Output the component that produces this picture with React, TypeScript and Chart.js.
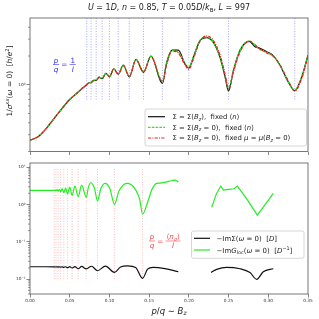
import React, { useEffect, useRef } from 'react';
import { Chart, registerables } from 'chart.js';

Chart.register(...registerables);

// ---------------- data ----------------
const xTicks = [0, 0.05, 0.1, 0.15, 0.2, 0.25, 0.3, 0.35];
const xTickLabels = ['0.00', '0.05', '0.10', '0.15', '0.20', '0.25', '0.30', '0.35'];

const topYTicks = [1];
const topYTickLabels = ['10⁰'];
const topYMinorTicks = [0.2, 0.3, 0.4, 0.5, 0.6, 0.7, 0.8, 0.9, 2, 3, 4];

const botYTicks = [0.01, 0.1, 1, 10];
const botYTickLabels = ['10⁻²', '10⁻¹', '10⁰', '10¹'];
const botYMinorTicks = [
  0.004, 0.005, 0.006, 0.007, 0.008, 0.009,
  0.02, 0.03, 0.04, 0.05, 0.06, 0.07, 0.08, 0.09,
  0.2, 0.3, 0.4, 0.5, 0.6, 0.7, 0.8, 0.9,
  2, 3, 4, 5, 6, 7, 8, 9,
];

// p/q = 1/l  (l = 3 ... 14)
const blueLinesX = [0.3333, 0.25, 0.2, 0.1667, 0.1429, 0.125, 0.1111, 0.1, 0.0909, 0.0833, 0.0769, 0.0714];
const blueLinesRange = [0.7, 5];
// p/q = <n_sigma>/l  (l = 3 ... 14)
const redLinesX = [0.1417, 0.1063, 0.085, 0.0708, 0.0607, 0.0531, 0.0472, 0.0425, 0.0386, 0.0354, 0.0327, 0.0304];
const redLinesRange = [0.01, 10];

// top panel: 1/sigma_xx(omega=0)
const topX = [0, 0.01, 0.02, 0.03, 0.04, 0.05, 0.06, 0.0667, 0.0714, 0.0745,
  0.0769, 0.08, 0.0833, 0.087, 0.0909, 0.0955, 0.1, 0.1055, 0.1111, 0.1175,
  0.125, 0.1335, 0.1429, 0.1523, 0.1667, 0.172, 0.179, 0.1867, 0.195, 0.2,
  0.2056, 0.214, 0.2225, 0.2308, 0.2392, 0.2455, 0.25, 0.256, 0.2644, 0.2761,
  0.2833, 0.2874, 0.298, 0.3063, 0.3147, 0.3252, 0.3333, 0.342, 0.35];
const topSigmaBz = [0.262, 0.285, 0.345, 0.44, 0.56, 0.70, 0.83, 0.93, 1.00, 1.05,
  1.05, 1.11, 1.11, 1.20, 1.16, 1.32, 1.21, 1.47, 1.29, 1.61,
  1.21, 1.85, 1.35, 2.00, 1.03, 1.70, 2.30, 2.30, 1.66, 1.50,
  1.94, 2.90, 3.12, 2.78, 1.94, 1.22, 0.86, 1.40, 2.30, 2.85,
  2.50, 2.45, 2.22, 2.02, 1.60, 1.07, 0.87, 1.20, 2.04];
const topSigma0FixedN = [0.262, 0.285, 0.345, 0.44, 0.56, 0.70, 0.83, 0.93, 1.00, 1.05,
  1.06, 1.11, 1.12, 1.20, 1.17, 1.32, 1.22, 1.46, 1.30, 1.60,
  1.22, 1.84, 1.38, 1.99, 1.10, 1.67, 2.28, 2.20, 1.70, 1.52,
  1.96, 2.92, 3.16, 2.80, 1.96, 1.26, 0.92, 1.42, 2.30, 2.87,
  2.59, 2.40, 2.18, 2.00, 1.60, 1.075, 0.88, 1.21, 2.04];
const topSigma0FixedMu = [0.262, 0.285, 0.345, 0.44, 0.56, 0.70, 0.83, 0.93, 1.00, 1.05,
  1.06, 1.10, 1.12, 1.19, 1.17, 1.30, 1.22, 1.45, 1.30, 1.58,
  1.22, 1.82, 1.36, 1.97, 1.08, 1.62, 2.25, 2.15, 1.62, 1.45,
  1.85, 2.85, 3.25, 2.92, 2.05, 1.30, 0.90, 1.35, 2.20, 2.87,
  2.62, 2.45, 2.15, 1.98, 1.62, 1.10, 0.86, 1.15, 2.00];

// bottom panel: -Im Sigma(omega=0) [D]
const botSigX1 = [0, 0.02, 0.03, 0.0327, 0.034, 0.0354, 0.037, 0.0386, 0.0405, 0.0425,
  0.0448, 0.0472, 0.05, 0.0531, 0.0565, 0.0607, 0.065, 0.0708, 0.0775, 0.085,
  0.095, 0.1063, 0.114, 0.123, 0.133, 0.1417, 0.148, 0.155, 0.17, 0.1867];
const botSig1 = [0.0215, 0.0215, 0.0214, 0.0212, 0.0214, 0.0211, 0.0214, 0.0209, 0.0214, 0.0206,
  0.0215, 0.0203, 0.0216, 0.0199, 0.0218, 0.0190, 0.0219, 0.0188, 0.0222, 0.0168,
  0.0224, 0.0152, 0.0212, 0.0228, 0.0205, 0.0105, 0.0185, 0.0208, 0.0192, 0.0158];
const botSigX2 = [0.2279, 0.235, 0.2476, 0.2644, 0.277, 0.2854, 0.2937, 0.3063];
const botSig2 = [0.0152, 0.0183, 0.0207, 0.0190, 0.0150, 0.0099, 0.0158, 0.0190];

// bottom panel: -Im G_loc(omega=0) [1/D]
const botGX1 = [0, 0.01, 0.02, 0.03, 0.0304, 0.0315, 0.0327, 0.034, 0.0354, 0.037,
  0.0386, 0.0405, 0.0425, 0.0448, 0.0472, 0.05, 0.0531, 0.0565, 0.0607, 0.065,
  0.0708, 0.0735, 0.0765, 0.081, 0.085, 0.089, 0.0945, 0.1005, 0.1063, 0.112,
  0.122, 0.1325, 0.138, 0.1417, 0.149, 0.1532, 0.1595, 0.1637, 0.1784, 0.1826, 0.1867];
const botG1 = [2.40, 2.40, 2.40, 2.40, 2.38, 2.46, 2.34, 2.50, 2.28, 2.56,
  2.20, 2.66, 2.08, 2.78, 1.92, 2.92, 1.76, 3.13, 1.62, 3.33,
  1.56, 2.9, 3.84, 2.8, 1.26, 2.6, 3.70, 2.7, 1.01, 2.3,
  3.70, 2.6, 1.4, 0.556, 1.32, 2.45, 3.70, 3.75, 4.35, 4.54, 4.00];
const botGX2 = [0.2288, 0.2345, 0.2401, 0.2434, 0.25, 0.257, 0.261, 0.2735, 0.2862, 0.296, 0.3063];
const botG2 = [0.84, 1.9, 3.13, 2.45, 2.55, 2.65, 3.13, 1.35, 0.52, 1.0, 2.0];

// ---------------- helpers ----------------
type Seg = { t: string; it?: boolean; sub?: boolean; sup?: boolean };
const FAM = '"DejaVu Sans", sans-serif';
const BLACK = '#111111';
const GREEN = '#22ee22';
const RED = '#ee2222';

function fontFor(s: Seg, size: number) {
  const sz = s.sub || s.sup ? size * 0.7 : size;
  return `${s.it ? 'italic ' : ''}${sz}px ${FAM}`;
}
function richWidth(ctx: CanvasRenderingContext2D, segs: Seg[], size: number) {
  let w = 0;
  for (const s of segs) {
    ctx.font = fontFor(s, size);
    w += ctx.measureText(s.t).width;
  }
  return w;
}
function drawRich(ctx: CanvasRenderingContext2D, segs: Seg[], x: number, y: number, size: number, color: string, align: 'left' | 'center' | 'right' = 'left') {
  const w = richWidth(ctx, segs, size);
  let cx = align === 'center' ? x - w / 2 : align === 'right' ? x - w : x;
  ctx.fillStyle = color;
  ctx.textAlign = 'left';
  ctx.textBaseline = 'alphabetic';
  const base = y + size * 0.36;
  for (const s of segs) {
    ctx.font = fontFor(s, size);
    const dy = s.sub ? size * 0.22 : s.sup ? -size * 0.4 : 0;
    ctx.fillText(s.t, cx, base + dy);
    cx += ctx.measureText(s.t).width;
  }
  return w;
}
function drawFrac(ctx: CanvasRenderingContext2D, num: Seg[], den: Seg[], x: number, cy: number, size: number, color: string) {
  const w = Math.max(richWidth(ctx, num, size), richWidth(ctx, den, size)) + 1.5;
  drawRich(ctx, num, x + w / 2, cy - size * 0.62, size, color, 'center');
  drawRich(ctx, den, x + w / 2, cy + size * 0.66, size, color, 'center');
  ctx.strokeStyle = color;
  ctx.lineWidth = 0.6;
  ctx.beginPath();
  ctx.moveTo(x, cy);
  ctx.lineTo(x + w, cy);
  ctx.stroke();
  return w;
}
function legendBox(ctx: CanvasRenderingContext2D, x: number, y: number, w: number, h: number) {
  const r = 2;
  ctx.beginPath();
  ctx.moveTo(x + r, y);
  ctx.lineTo(x + w - r, y);
  ctx.quadraticCurveTo(x + w, y, x + w, y + r);
  ctx.lineTo(x + w, y + h - r);
  ctx.quadraticCurveTo(x + w, y + h, x + w - r, y + h);
  ctx.lineTo(x + r, y + h);
  ctx.quadraticCurveTo(x, y + h, x, y + h - r);
  ctx.lineTo(x, y + r);
  ctx.quadraticCurveTo(x, y, x + r, y);
  ctx.closePath();
  ctx.fillStyle = 'rgba(255,255,255,0.8)';
  ctx.fill();
  ctx.strokeStyle = '#cccccc';
  ctx.lineWidth = 0.8;
  ctx.stroke();
}
function sample(ctx: CanvasRenderingContext2D, x0: number, x1: number, y: number, color: string, dash: number[]) {
  ctx.save();
  ctx.strokeStyle = color;
  ctx.lineWidth = 1.2;
  ctx.setLineDash(dash);
  ctx.beginPath();
  ctx.moveTo(x0, y);
  ctx.lineTo(x1, y);
  ctx.stroke();
  ctx.restore();
}
function frameAndMinor(chart: any, minor: number[]) {
  const ctx = chart.ctx as CanvasRenderingContext2D;
  const a = chart.chartArea;
  const ys = chart.scales.y;
  ctx.strokeStyle = '#555';
  ctx.lineWidth = 0.8;
  ctx.strokeRect(a.left, a.top, a.right - a.left, a.bottom - a.top);
  ctx.lineWidth = 0.6;
  for (const v of minor) {
    const py = ys.getPixelForValue(v);
    if (py < a.top - 0.5 || py > a.bottom + 0.5) continue;
    ctx.beginPath();
    ctx.moveTo(a.left - 2, py);
    ctx.lineTo(a.left, py);
    ctx.stroke();
  }
}

const pts = (xs: number[], ys: number[]) => xs.map((x, i) => ({ x, y: ys[i] }));
const vlines = (xs: number[], range: number[]) =>
  xs.flatMap((x) => [{ x, y: range[0] }, { x, y: range[1] }, { x, y: null as any }]);

const titleSegs: Seg[] = [
  { t: 'U', it: true }, { t: ' = 1' }, { t: 'D', it: true }, { t: ', ' }, { t: 'n', it: true },
  { t: ' = 0.85, ' }, { t: 'T', it: true }, { t: ' = 0.05' }, { t: 'D', it: true }, { t: '/' },
  { t: 'k', it: true }, { t: 'B', sub: true }, { t: ', ' }, { t: 'L', it: true }, { t: ' = 997' },
];
const yLabelSegs: Seg[] = [
  { t: '1/' }, { t: 'σ', it: true }, { t: 'xx', it: true, sup: true }, { t: '(' }, { t: 'ω', it: true },
  { t: ' = 0)  [' }, { t: 'h', it: true }, { t: '/' }, { t: 'e', it: true }, { t: '2', sup: true }, { t: ']' },
];
const xLabelSegs: Seg[] = [
  { t: 'p', it: true }, { t: '/' }, { t: 'q', it: true }, { t: ' ∼ ' }, { t: 'B', it: true }, { t: 'z', it: true, sub: true },
];
const topLegend: Seg[][] = [
  [{ t: 'Σ = Σ(' }, { t: 'B', it: true }, { t: 'z', it: true, sub: true }, { t: '),  fixed ⟨' }, { t: 'n', it: true }, { t: '⟩' }],
  [{ t: 'Σ = Σ(' }, { t: 'B', it: true }, { t: 'z', it: true, sub: true }, { t: ' = 0),  fixed ⟨' }, { t: 'n', it: true }, { t: '⟩' }],
  [{ t: 'Σ = Σ(' }, { t: 'B', it: true }, { t: 'z', it: true, sub: true }, { t: ' = 0),  fixed ' }, { t: 'μ', it: true },
    { t: ' = ' }, { t: 'μ', it: true }, { t: '(' }, { t: 'B', it: true }, { t: 'z', it: true, sub: true }, { t: ' = 0)' }],
];
const botLegend: Seg[][] = [
  [{ t: '−ImΣ(' }, { t: 'ω', it: true }, { t: ' = 0)  [' }, { t: 'D', it: true }, { t: ']' }],
  [{ t: '−Im' }, { t: 'G', it: true }, { t: 'loc', sub: true }, { t: '(' }, { t: 'ω', it: true }, { t: ' = 0)  [' },
    { t: 'D', it: true }, { t: '−1', sup: true }, { t: ']' }],
];

const TOP_H = 157;
const BOT_OFF = 157;
const BOT_H = 162;

const topDeco = {
  id: 'topDeco',
  afterDraw(chart: any) {
    const ctx = chart.ctx as CanvasRenderingContext2D;
    const a = chart.chartArea;
    ctx.save();
    frameAndMinor(chart, topYMinorTicks);
    drawRich(ctx, titleSegs, (a.left + a.right) / 2, 7, 8, '#222', 'center');
    ctx.save();
    ctx.translate(9, 81);
    ctx.rotate(-Math.PI / 2);
    drawRich(ctx, yLabelSegs, 0, 0, 7.4, '#222', 'center');
    ctx.restore();
    // blue annotation p/q = 1/l
    const blue = '#2f2ff0';
    let x = 53;
    x += drawFrac(ctx, [{ t: 'p', it: true }], [{ t: 'q', it: true }], x, 64.5, 7.2, blue);
    x += drawRich(ctx, [{ t: ' = ' }], x, 64.5, 7.2, blue);
    drawFrac(ctx, [{ t: '1' }], [{ t: 'l', it: true }], x, 64.5, 7.2, blue);
    // legend
    legendBox(ctx, 145, 109, 161.5, 37);
    const rows = [116.7, 127.3, 138];
    sample(ctx, 148, 165, rows[0], BLACK, []);
    sample(ctx, 148, 165, rows[1], GREEN, [2.6, 1.2]);
    sample(ctx, 148, 165, rows[2], RED, [3.2, 1.2, 1, 1.2]);
    rows.forEach((ry, i) => drawRich(ctx, topLegend[i], 172.5, ry, 6.9, '#222'));
    ctx.restore();
  },
};

const botDeco = {
  id: 'botDeco',
  afterDraw(chart: any) {
    const ctx = chart.ctx as CanvasRenderingContext2D;
    const a = chart.chartArea;
    ctx.save();
    frameAndMinor(chart, botYMinorTicks);
    ctx.translate(0, -BOT_OFF);
    drawRich(ctx, xLabelSegs, (a.left + a.right) / 2, 310.5, 8.5, '#222', 'center');
    // red annotation p/q = <n_sigma>/l
    const red = '#f04848';
    let x = 149;
    x += drawFrac(ctx, [{ t: 'p', it: true }], [{ t: 'q', it: true }], x, 241, 7.2, red);
    x += drawRich(ctx, [{ t: ' = ' }], x, 241, 7.2, red);
    drawFrac(ctx, [{ t: '⟨' }, { t: 'n', it: true }, { t: 'σ', it: true, sub: true }, { t: '⟩' }], [{ t: 'l', it: true }], x, 241, 7.2, red);
    // legend
    legendBox(ctx, 191.5, 231, 112.5, 27.3);
    sample(ctx, 194, 210, 238.3, BLACK, []);
    sample(ctx, 194, 210, 250, GREEN, []);
    drawRich(ctx, botLegend[0], 216.5, 238.3, 7, '#222');
    drawRich(ctx, botLegend[1], 216.5, 250, 7, '#222');
    ctx.restore();
  },
};

const tickFont = { family: 'DejaVu Sans', size: 4.3 };
const gridOpts = { drawOnChartArea: false, drawTicks: true, tickLength: 3.5, color: '#555', lineWidth: 0.7 };

function curve(data: any[], color: string, dash: number[], order: number, mono = true) {
  return {
    data,
    borderColor: color,
    borderWidth: 1.2,
    borderDash: dash,
    pointRadius: 0,
    fill: false,
    cubicInterpolationMode: mono ? 'monotone' : 'default',
    tension: 0,
    order,
  };
}

export default function App() {
  const topRef = useRef<HTMLCanvasElement>(null);
  const botRef = useRef<HTMLCanvasElement>(null);

  useEffect(() => {
    const c1 = new Chart(topRef.current!, {
      type: 'line',
      data: {
        datasets: [
          { data: vlines(blueLinesX, blueLinesRange), borderColor: 'rgba(70,70,255,0.6)', borderWidth: 0.8, borderDash: [1, 1.6], pointRadius: 0, fill: false, order: 10 } as any,
          curve(pts(topX, topSigmaBz), BLACK, [], 3),
          curve(pts(topX, topSigma0FixedN), GREEN, [2.6, 1.2], 2),
          curve(pts(topX, topSigma0FixedMu), RED, [3.2, 1.2, 1, 1.2], 1),
        ],
      },
      options: {
        animation: false,
        responsive: false,
        maintainAspectRatio: false,
        layout: { padding: { top: 18, right: 11, left: 0, bottom: 0 } },
        plugins: { legend: { display: false }, tooltip: { enabled: false }, title: { display: false } },
        scales: {
          x: {
            type: 'linear', min: 0, max: 0.35,
            afterBuildTicks: (s: any) => { s.ticks = xTicks.map((value) => ({ value })); },
            afterFit: (s: any) => { s.height = TOP_H - 151.5; },
            ticks: { display: false },
            grid: gridOpts,
            border: { display: false },
          },
          y: {
            type: 'logarithmic', min: 0.2, max: 5,
            afterBuildTicks: (s: any) => { s.ticks = topYTicks.map((value) => ({ value })); },
            afterFit: (s: any) => { s.width = 30; },
            ticks: { callback: (_v: any, i: number) => topYTickLabels[i], font: tickFont, color: '#333', padding: 1 },
            grid: gridOpts,
            border: { display: false },
          },
        },
      } as any,
      plugins: [topDeco],
    });

    const c2 = new Chart(botRef.current!, {
      type: 'line',
      data: {
        datasets: [
          { data: vlines(redLinesX, redLinesRange), borderColor: 'rgba(255,70,70,0.45)', borderWidth: 0.8, borderDash: [1, 1.6], pointRadius: 0, fill: false, order: 10 } as any,
          curve(pts(botSigX1, botSig1), BLACK, [], 2),
          curve(pts(botSigX2, botSig2), BLACK, [], 2),
          curve(pts(botGX1, botG1), GREEN, [], 1),
          curve(pts(botGX2, botG2), GREEN, [], 1, false),
        ],
      },
      options: {
        animation: false,
        responsive: false,
        maintainAspectRatio: false,
        layout: { padding: { top: 163 - BOT_OFF, right: 11, left: 0, bottom: 0 } },
        plugins: { legend: { display: false }, tooltip: { enabled: false }, title: { display: false } },
        scales: {
          x: {
            type: 'linear', min: 0, max: 0.35,
            afterBuildTicks: (s: any) => { s.ticks = xTicks.map((value) => ({ value })); },
            afterFit: (s: any) => { s.height = BOT_H - (294 - BOT_OFF); },
            ticks: { callback: (_v: any, i: number) => xTickLabels[i], font: tickFont, color: '#333', padding: 1, maxRotation: 0, autoSkip: false },
            grid: gridOpts,
            border: { display: false },
          },
          y: {
            type: 'logarithmic', min: 0.004, max: 13,
            afterBuildTicks: (s: any) => { s.ticks = botYTicks.map((value) => ({ value })); },
            afterFit: (s: any) => { s.width = 30; },
            ticks: { callback: (_v: any, i: number) => botYTickLabels[i], font: tickFont, color: '#333', padding: 1 },
            grid: gridOpts,
            border: { display: false },
          },
        },
      } as any,
      plugins: [botDeco],
    });

    return () => {
      c1.destroy();
      c2.destroy();
    };
  }, []);

  return (
    <div style={{ position: 'fixed', left: 0, top: 0, width: 319, height: 319, background: '#fff' }}>
      <canvas ref={topRef} width={319} height={TOP_H} style={{ position: 'absolute', left: 0, top: 0, width: 319, height: TOP_H }} />
      <canvas ref={botRef} width={319} height={BOT_H} style={{ position: 'absolute', left: 0, top: BOT_OFF, width: 319, height: BOT_H }} />
    </div>
  );
}
